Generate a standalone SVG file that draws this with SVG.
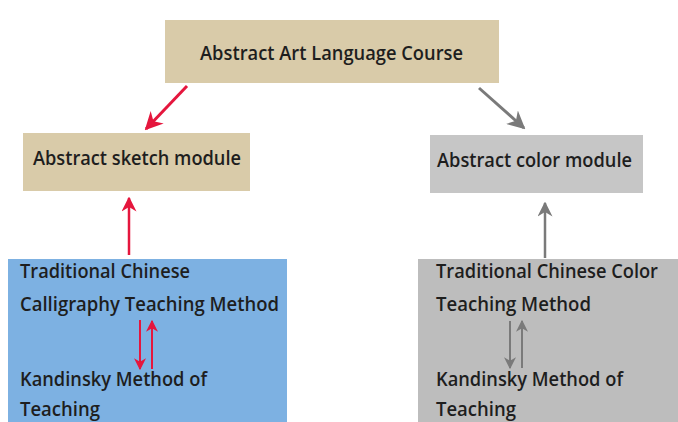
<svg xmlns="http://www.w3.org/2000/svg" width="678" height="422" viewBox="0 0 678 422">
<defs>
<marker id="ar" viewBox="0 0 10 10" refX="9" refY="5" markerWidth="6" markerHeight="6" orient="auto" markerUnits="strokeWidth"><path d="M0,0 L10,5 L0,10 L3,5 Z" fill="#e5163d"/></marker>
<marker id="ag" viewBox="0 0 10 10" refX="9" refY="5" markerWidth="6" markerHeight="6" orient="auto" markerUnits="strokeWidth"><path d="M0,0 L10,5 L0,10 L3,5 Z" fill="#7a7a7a"/></marker>
</defs>
<style>
text{font-family:"Open Sans","Liberation Sans",sans-serif;font-size:19px;font-weight:600;fill:#1e1e1e}
.tan{fill:#d9cba9}
.red{stroke:#e5163d;fill:none}
.gry{stroke:#7a7a7a;fill:none}
</style>
<rect width="678" height="422" fill="#ffffff"/>
<g id="course"><rect class="tan" x="165" y="20" width="334" height="63"/><text x="200" y="60" textLength="263" lengthAdjust="spacingAndGlyphs">Abstract Art Language Course</text></g>
<g id="sketch"><rect class="tan" x="23" y="133" width="227" height="58"/><text x="33" y="165" textLength="208" lengthAdjust="spacingAndGlyphs">Abstract sketch module</text></g>
<g id="color"><rect fill="#c6c6c6" x="430" y="135" width="213" height="58"/><text x="437" y="167" textLength="195" lengthAdjust="spacingAndGlyphs">Abstract color module</text></g>
<g id="calligraphy"><rect fill="#7db1e2" x="8" y="259" width="279" height="163"/>
<text x="20" y="278" textLength="170" lengthAdjust="spacingAndGlyphs">Traditional Chinese</text>
<text x="20" y="311" textLength="259" lengthAdjust="spacingAndGlyphs">Calligraphy Teaching Method</text>
<text x="20" y="386" textLength="187" lengthAdjust="spacingAndGlyphs">Kandinsky Method of</text>
<text x="20" y="416" textLength="80" lengthAdjust="spacingAndGlyphs">Teaching</text></g>
<g id="colormethod"><rect fill="#bdbdbd" x="418" y="259" width="260" height="163"/>
<text x="436" y="278" textLength="222" lengthAdjust="spacingAndGlyphs">Traditional Chinese Color</text>
<text x="436" y="311" textLength="155" lengthAdjust="spacingAndGlyphs">Teaching Method</text>
<text x="436" y="386" textLength="187" lengthAdjust="spacingAndGlyphs">Kandinsky Method of</text>
<text x="436" y="416" textLength="80" lengthAdjust="spacingAndGlyphs">Teaching</text></g>
<g id="connectors">
<line class="red" x1="187" y1="86" x2="146" y2="129" stroke-width="3" marker-end="url(#ar)"/>
<line class="gry" x1="479" y1="88" x2="524" y2="128" stroke-width="3" marker-end="url(#ag)"/>
<line class="red" x1="129" y1="255" x2="129" y2="198" stroke-width="2.5" marker-end="url(#ar)"/>
<line class="gry" x1="545" y1="258" x2="545" y2="203" stroke-width="2.5" marker-end="url(#ag)"/>
<line class="red" x1="140" y1="320" x2="140" y2="369" stroke-width="2" marker-end="url(#ar)"/>
<line class="red" x1="152" y1="369" x2="152" y2="321" stroke-width="2" marker-end="url(#ar)"/>
<line class="gry" x1="510" y1="321" x2="510" y2="368" stroke-width="2" marker-end="url(#ag)"/>
<line class="gry" x1="522" y1="368" x2="522" y2="321" stroke-width="2" marker-end="url(#ag)"/>
</g>
</svg>
